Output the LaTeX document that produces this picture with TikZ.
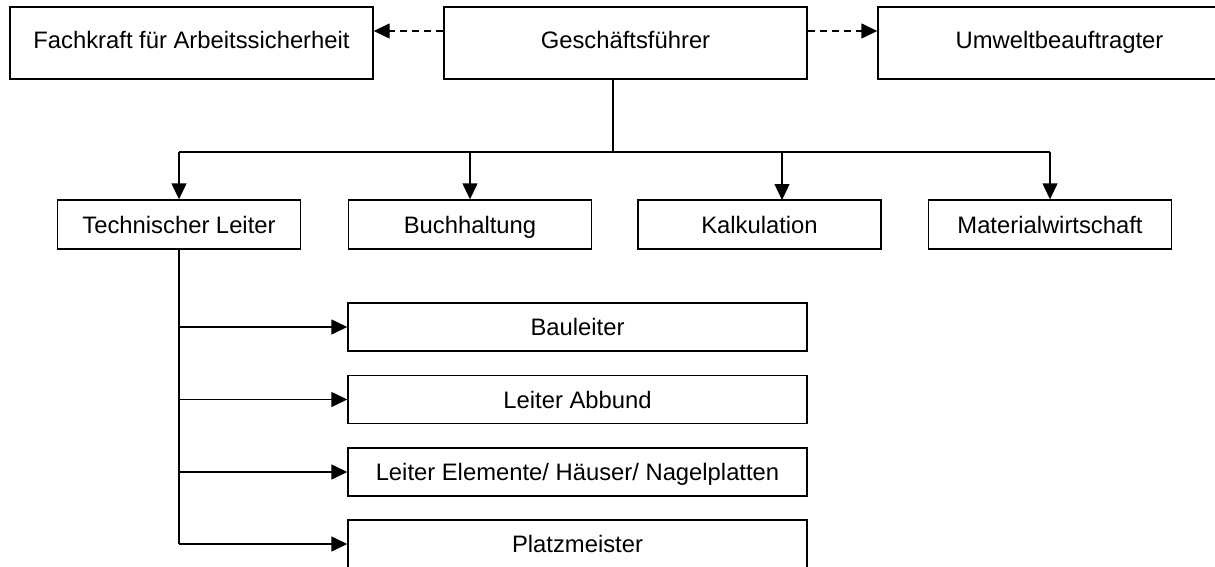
\documentclass[tikz,border=0pt]{standalone}
\usepackage{fontspec}
\setmainfont{Liberation Sans}
\usetikzlibrary{arrows.meta}

\begin{document}
\begin{tikzpicture}[x=0.5pt, y=-0.5pt,
    every node/.style={font=\fontsize{11.9}{14}\selectfont, text height=9pt, text depth=0.5pt},
    topbox/.style={draw, line width=0.7pt, inner sep=0pt, minimum width=181.5pt, minimum height=36pt, text depth=3.2pt},
    unitbox/.style={draw, line width=0.7pt, inner sep=0pt, minimum width=121.5pt, minimum height=24.5pt},
    subbox/.style={draw, line width=0.7pt, inner sep=0pt, minimum width=229.5pt, minimum height=24pt},
    conn/.style={line width=0.7pt, -{Triangle[length=8pt, width=7.5pt]}},
    staff/.style={conn, dash pattern=on 3.5pt off 2.5pt}]
    \useasboundingbox[fill=white] (0,0) rectangle (1215,567);

    \node[topbox] (fachkraft) at (191.5,43) {Fachkraft für Arbeitssicherheit};
    \node[topbox] (gf) at (625.5,43) {Geschäftsführer};
    \node[topbox] (umwelt) at (1059.5,43) {Umweltbeauftragter};

    \node[unitbox] (technik) at (179,224.5) {Technischer Leiter};
    \node[unitbox] (buchhaltung) at (470,224.5) {Buchhaltung};
    \node[unitbox] (kalkulation) at (759.5,224.5) {Kalkulation};
    \node[unitbox] (material) at (1050,224.5) {Materialwirtschaft};

    \node[subbox] (bauleiter) at (577.5,327) {Bauleiter};
    \node[subbox] (abbund) at (577.5,399.5) {Leiter Abbund};
    \node[subbox] (elemente) at (577.5,472) {Leiter Elemente/ Häuser/ Nagelplatten};
    \node[subbox] (platz) at (577.5,544) {Platzmeister};

    \coordinate (bus) at (613,152);
    \coordinate (kalkin) at (782,200);

    \draw[staff] ([yshift=6pt]gf.west) -- ([yshift=6pt]fachkraft.east);
    \draw[staff] ([yshift=6pt]gf.east) -- ([yshift=6pt]umwelt.west);

    \draw[line width=0.7pt] (gf.south -| bus) -- (bus);
    \draw[line width=0.7pt] (technik.north |- bus) -- (material.north |- bus);
    \draw[conn] (technik.north |- bus) -- (technik.north);
    \draw[conn] (buchhaltung.north |- bus) -- (buchhaltung.north);
    \draw[conn] (kalkin |- bus) -- (kalkin);
    \draw[conn] (material.north |- bus) -- (material.north);

    \draw[line width=0.7pt] (technik.south) -- (technik.south |- platz.west);
    \foreach \sub in {bauleiter, abbund, elemente, platz} {
      \draw[conn] (technik.south |- \sub.west) -- (\sub.west);
    }
\end{tikzpicture}
\end{document}
